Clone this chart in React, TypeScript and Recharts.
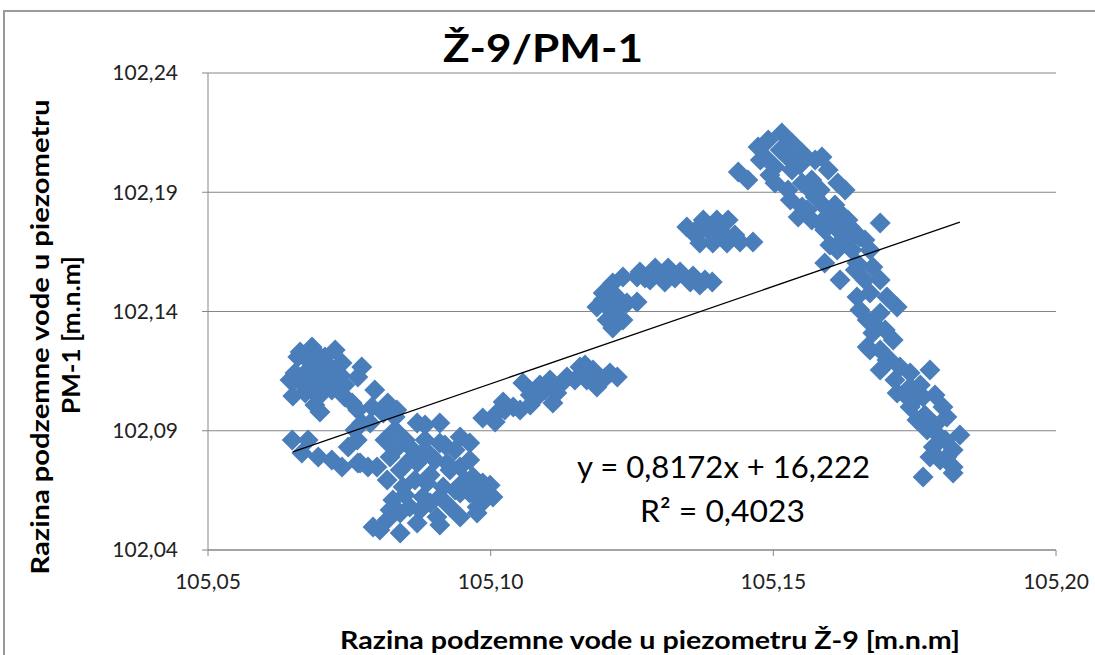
import { CartesianGrid, Scatter, ScatterChart, XAxis, YAxis } from "recharts"

// Ž-9 (x) vs PM-1 (y) razine, m.n.m — očitano sa slike, grupirano po oblacima točaka
const WEST_UPPER = [
  [105.0659, 102.1209], [105.0684, 102.1251], [105.0707, 102.1209], [105.0725, 102.1239],
  [105.0737, 102.1184], [105.0654, 102.1142], [105.0677, 102.1155], [105.0702, 102.1142],
  [105.0725, 102.1125], [105.065, 102.1046], [105.0672, 102.1058], [105.0695, 102.1041],
  [105.0719, 102.1071], [105.0742, 102.1041], [105.0755, 102.1016], [105.0765, 102.0987],
  [105.0698, 102.0979], [105.0772, 102.1167], [105.0765, 102.1125], [105.0795, 102.1071],
  [105.0818, 102.1016], [105.0831, 102.0958], [105.079, 102.1], [105.0772, 102.0932],
  [105.076, 102.0903], [105.0668, 102.1092], [105.0689, 102.1092], [105.0712, 102.11],
  [105.0663, 102.123], [105.069, 102.118], [105.0715, 102.117], [105.065, 102.111],
  [105.0695, 102.1218], [105.068, 102.1188], [105.0716, 102.1163], [105.0663, 102.1113],
  [105.0686, 102.1113], [105.0707, 102.1079], [105.0734, 102.1134], [105.0645, 102.1113],
  [105.0742, 102.1092], [105.0689, 102.1008],
]

const WEST_LOWER = [
  [105.0649, 102.0861], [105.0677, 102.0861], [105.0666, 102.0807], [105.0695, 102.079],
  [105.0719, 102.0777], [105.0748, 102.0832], [105.0737, 102.0748], [105.0765, 102.0765],
  [105.0783, 102.0748],
]

const MIDDLE = [
  [105.0764, 102.0861], [105.0787, 102.0932], [105.081, 102.0974], [105.0834, 102.0987],
  [105.087, 102.0932], [105.091, 102.0932], [105.0946, 102.0874], [105.0963, 102.0849],
  [105.091, 102.0849], [105.0857, 102.0832], [105.0822, 102.079], [105.0799, 102.0748],
  [105.0769, 102.0765], [105.084, 102.0735], [105.087, 102.0765], [105.0923, 102.0765],
  [105.0946, 102.0748], [105.0969, 102.0706], [105.0986, 102.0681], [105.0817, 102.0694],
  [105.0845, 102.0664], [105.0887, 102.0681], [105.0916, 102.0664], [105.0946, 102.0639],
  [105.1004, 102.0622], [105.0827, 102.061], [105.0857, 102.058], [105.0893, 102.0597],
  [105.0928, 102.058], [105.0976, 102.058], [105.0792, 102.0496], [105.0817, 102.0526],
  [105.084, 102.0471], [105.087, 102.0513], [105.0905, 102.0538], [105.0946, 102.0538],
  [105.0976, 102.0555], [105.084, 102.0555], [105.088, 102.0622], [105.0849, 102.0861],
  [105.0884, 102.0861], [105.0893, 102.0798], [105.0937, 102.0819], [105.0866, 102.0694],
  [105.0963, 102.0639], [105.091, 102.0622], [105.0813, 102.0861],
  [105.0831, 102.0819], [105.0875, 102.0798], [105.0902, 102.0777], [105.0928, 102.0735],
  [105.0955, 102.0694], [105.0972, 102.0631], [105.099, 102.061], [105.0848, 102.0631],
  [105.0875, 102.0568], [105.091, 102.0505], [105.0822, 102.0568], [105.0804, 102.0484],
  [105.0937, 102.0652], [105.0893, 102.0714], [105.0857, 102.0777], [105.0919, 102.084],
  [105.0884, 102.0924], [105.0831, 102.0903], [105.0963, 102.0777], [105.0999, 102.0672],
]

const RISING = [
  [105.0986, 102.0953], [105.1008, 102.0937], [105.1022, 102.1021], [105.104, 102.1],
  [105.1057, 102.11], [105.1082, 102.1041], [105.111, 102.1016], [105.1117, 102.1058],
  [105.1105, 102.1113], [105.1135, 102.1125], [105.1158, 102.1167], [105.117, 102.1113],
  [105.1181, 102.1155], [105.1188, 102.1083], [105.1211, 102.1142], [105.1224, 102.1125],
  [105.107, 102.105], [105.1096, 102.1071], [105.1052, 102.0987], [105.1011, 102.0974],
  [105.1025, 102.0987], [105.107, 102.1008], [105.1087, 102.1092], [105.1123, 102.1092],
  [105.1149, 102.1113], [105.1176, 102.1121], [105.1202, 102.1121], [105.1167, 102.1176],
]

const ARC = [
  [105.1188, 102.1419], [105.1199, 102.1478], [105.1206, 102.1364], [105.1216, 102.1331],
  [105.1224, 102.1377], [105.1234, 102.1364], [105.1216, 102.152], [105.1234, 102.1545],
  [105.1259, 102.1545], [105.1241, 102.1436], [105.1259, 102.144], [105.1264, 102.1566],
  [105.1291, 102.1582], [105.1314, 102.1582], [105.1335, 102.1566], [105.1358, 102.1549],
  [105.1379, 102.1532], [105.1392, 102.1524], [105.1282, 102.1532], [105.1308, 102.1524],
  [105.1199, 102.1448], [105.1202, 102.1448], [105.122, 102.1469], [105.1273, 102.154],
  [105.13, 102.1553], [105.1326, 102.154], [105.1353, 102.1524], [105.137, 102.1511],
  [105.1229, 102.1427], [105.1215, 102.1398],
]

const PLATEAU = [
  [105.1347, 102.1754], [105.1376, 102.1784], [105.14, 102.1784], [105.142, 102.1784],
  [105.137, 102.1687], [105.1393, 102.1687], [105.1418, 102.1687], [105.1441, 102.1691],
  [105.1464, 102.1691], [105.1362, 102.1721], [105.1388, 102.1733], [105.1409, 102.1733],
  [105.1432, 102.1721], [105.1367, 102.175],
]

const EAST_UPPER = [
  [105.1438, 102.1985], [105.1455, 102.1951], [105.1473, 102.209], [105.1491, 102.2119],
  [105.1515, 102.2148], [105.1533, 102.2107], [105.1551, 102.2065], [105.1574, 102.2035],
  [105.1586, 102.2048], [105.1597, 102.1993], [105.1614, 102.1939], [105.1627, 102.1909],
  [105.1485, 102.2048], [105.1503, 102.2006], [105.1533, 102.1993], [105.1503, 102.1939],
  [105.1526, 102.1909], [105.1551, 102.1939], [105.1568, 102.1951], [105.1574, 102.188],
  [105.1551, 102.1838], [105.1544, 102.1796], [105.1568, 102.1784], [105.1591, 102.1838],
  [105.1604, 102.1796], [105.1591, 102.1742], [105.1614, 102.1742], [105.1632, 102.1784],
  [105.1645, 102.1729], [105.1609, 102.167], [105.1639, 102.1658], [105.1591, 102.1603],
  [105.1689, 102.1771], [105.1477, 102.2035], [105.1512, 102.2077], [105.1547, 102.2014],
  [105.1565, 102.1909], [105.153, 102.1868], [105.1583, 102.1909], [105.1609, 102.1847],
  [105.153, 102.2035], [105.1494, 102.1972],
]

const EAST_MIDDLE = [
  [105.156, 102.1826], [105.1583, 102.1771], [105.1618, 102.1813], [105.1636, 102.1754],
  [105.1653, 102.1712], [105.1671, 102.1658], [105.1618, 102.1532], [105.1648, 102.1603],
  [105.1676, 102.1587], [105.1689, 102.1532], [105.1648, 102.1461], [105.1671, 102.1478],
  [105.1701, 102.1461], [105.1719, 102.1419], [105.1666, 102.1364], [105.1689, 102.1394],
  [105.1676, 102.131], [105.1666, 102.1251], [105.1712, 102.128], [105.1689, 102.1239],
  [105.1701, 102.1197], [105.1724, 102.1167], [105.1742, 102.1083], [105.1719, 102.1058],
  [105.1613, 102.1658], [105.16, 102.1679], [105.1627, 102.17], [105.1645, 102.1574],
  [105.1662, 102.1532], [105.1653, 102.1406], [105.168, 102.1343], [105.1698, 102.1322],
  [105.1662, 102.17],
]

const EAST_LOWER = [
  [105.1671, 102.1239], [105.1706, 102.1197], [105.1742, 102.1142], [105.1777, 102.1155],
  [105.1765, 102.1041], [105.18, 102.1], [105.1742, 102.1], [105.1754, 102.0945],
  [105.1807, 102.0958], [105.1772, 102.0903], [105.183, 102.0882], [105.1783, 102.0832],
  [105.1818, 102.0819], [105.1777, 102.079], [105.1818, 102.0748], [105.1765, 102.0706],
  [105.1818, 102.0723], [105.1795, 102.0874], [105.1807, 102.079], [105.176, 102.1092],
  [105.1786, 102.105], [105.1689, 102.1155], [105.1715, 102.1113], [105.1733, 102.105],
  [105.1751, 102.1029], [105.1768, 102.0966], [105.1786, 102.0924], [105.1804, 102.0861],
  [105.1795, 102.0777],
]

// linearni trend (y = 0,8172x + 16,222) na rasponu x podataka
const TREND = [
  { x: 105.065, y: 102.0811 },
  { x: 105.183, y: 102.1775 },
]

const X_TICKS = [105.05, 105.1, 105.15, 105.2]
const Y_TICKS = [102.04, 102.09, 102.14, 102.19, 102.24]

const CHART_W = 1095
const CHART_H = 655
const MARKER = "#4A7EBB"
const AXIS_GRAY = "#868686"
const FONT = "Lato, 'Open Sans', sans-serif"

const points = [
  ...WEST_UPPER, ...WEST_LOWER, ...MIDDLE, ...RISING, ...ARC,
  ...PLATEAU, ...EAST_UPPER, ...EAST_MIDDLE, ...EAST_LOWER,
].map(([x, y]) => ({ x, y }))

const fmt = (v: number) => v.toFixed(2).replace(".", ",")

// Excelov romb: kvadrat zakrenut za 45°
function Diamond(props: any) {
  const { cx, cy } = props
  if (cx == null || cy == null) return null
  const r = 10.5
  return <path d={`M${cx},${cy - r}L${cx + r},${cy}L${cx},${cy + r}L${cx - r},${cy}Z`} fill={MARKER} />
}

export default function App() {
  return (
    <div style={{ position: "fixed", left: 0, top: 0, width: CHART_W, height: CHART_H, background: "#fff", overflow: "hidden", fontFamily: FONT }}>
      <div style={{ position: "absolute", left: 3, top: 10, width: 1200, height: 800, border: "2px solid #9a9a9a" }} />
      <div style={{ position: "absolute", left: 0, top: 0 }}>
        <ScatterChart width={CHART_W} height={CHART_H} margin={{ top: 73, right: 39, bottom: 65, left: 108 }}>
          <CartesianGrid vertical={false} stroke={AXIS_GRAY} strokeWidth={1} />
          <XAxis
            type="number"
            dataKey="x"
            domain={[105.05, 105.2]}
            ticks={X_TICKS}
            tickFormatter={fmt}
            height={40}
            stroke={AXIS_GRAY}
            tickSize={6}
            tickMargin={18}
            tick={{ fill: "#222", fontSize: 21, fontFamily: FONT }}
            allowDataOverflow
          />
          <YAxis
            type="number"
            dataKey="y"
            domain={[102.04, 102.24]}
            ticks={Y_TICKS}
            tickFormatter={fmt}
            width={100}
            stroke={AXIS_GRAY}
            tickSize={6}
            tickMargin={24}
            tick={{ fill: "#222", fontSize: 21, fontFamily: FONT }}
            allowDataOverflow
          />
          <Scatter data={points} shape={<Diamond />} isAnimationActive={false} />
          <Scatter data={TREND} line={{ stroke: "#000", strokeWidth: 1.3 }} shape={() => <g />} isAnimationActive={false} />
        </ScatterChart>
      </div>
      <svg width={CHART_W} height={CHART_H} style={{ position: "absolute", left: 0, top: 0, pointerEvents: "none" }}>
        <text x={543} y={62} textAnchor="middle" fontSize={38} fontWeight={700} fontFamily={FONT} fill="#000" textLength={200} lengthAdjust="spacingAndGlyphs">
          Ž-9/PM-1
        </text>
        <text x={650} y={649} textAnchor="middle" fontSize={25} fontWeight={700} fontFamily={FONT} fill="#000" textLength={620} lengthAdjust="spacingAndGlyphs">
          Razina podzemne vode u piezometru Ž-9 [m.n.m]
        </text>
        <g transform="translate(49,337) rotate(-90)">
          <text x={0} y={0} textAnchor="middle" fontSize={25} fontWeight={700} fontFamily={FONT} fill="#000" textLength={475} lengthAdjust="spacingAndGlyphs">
            Razina podzemne vode u piezometru
          </text>
        </g>
        <g transform="translate(80,335) rotate(-90)">
          <text x={0} y={0} textAnchor="middle" fontSize={25} fontWeight={700} fontFamily={FONT} fill="#000" textLength={158} lengthAdjust="spacingAndGlyphs">
            PM-1 [m.n.m]
          </text>
        </g>
        <text x={577} y={478} fontSize={30} fontFamily={FONT} fill="#000" textLength={293} lengthAdjust="spacingAndGlyphs">
          y = 0,8172x + 16,222
        </text>
        <text x={640} y={522} fontSize={30} fontFamily={FONT} fill="#000" textLength={165} lengthAdjust="spacingAndGlyphs">
          R² = 0,4023
        </text>
      </svg>
    </div>
  )
}
